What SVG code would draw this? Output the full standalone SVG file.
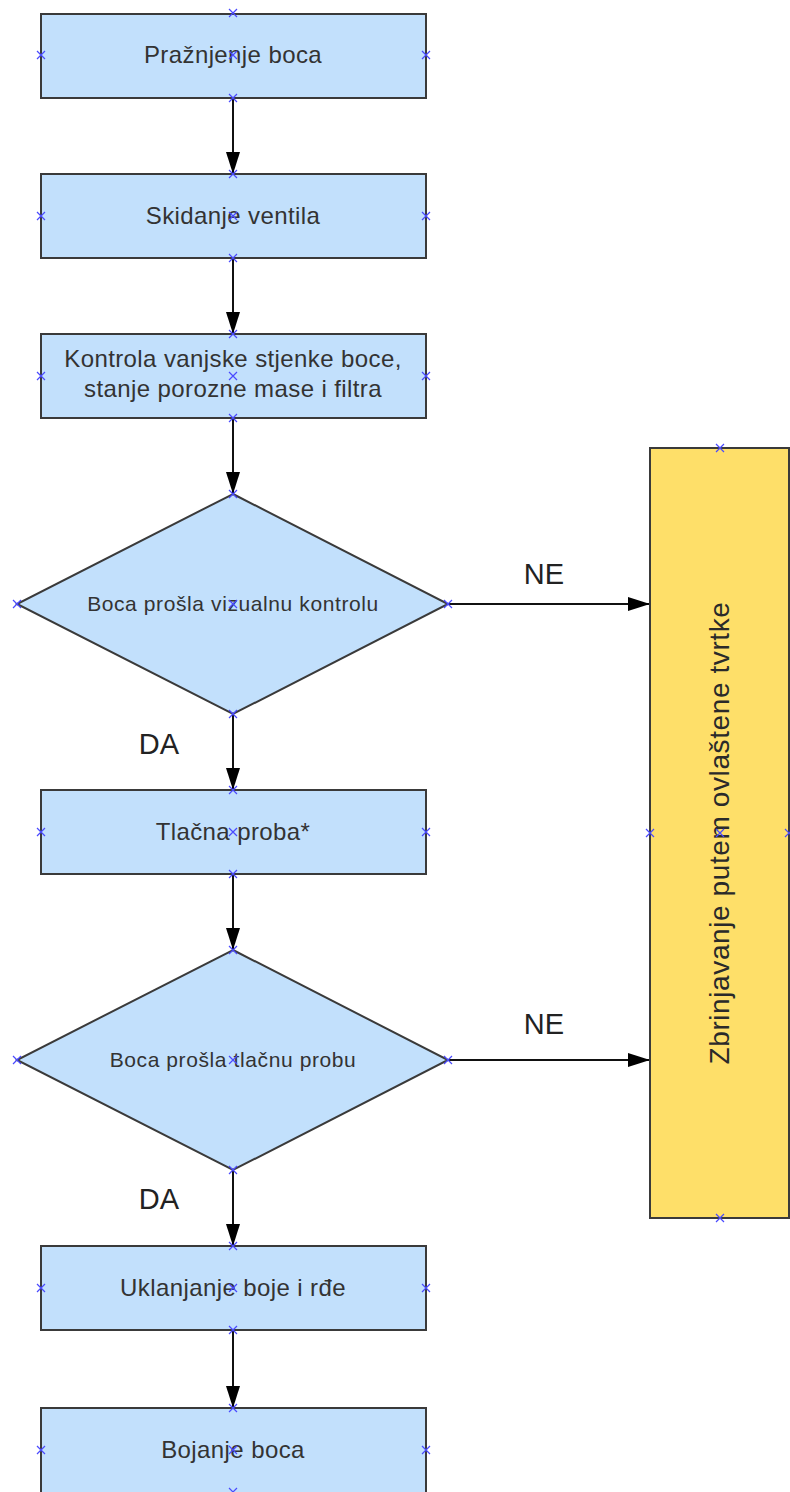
<svg xmlns="http://www.w3.org/2000/svg" width="790" height="1492" viewBox="0 0 790 1492">
<style>
.b{fill:#c2e0fc;stroke:#3a3a3a;stroke-width:2}
.y{fill:#fedf69;stroke:#3a3a3a;stroke-width:2}
.t{font-family:"Liberation Sans",Arial,sans-serif;font-size:24px;letter-spacing:0.4px;fill:#333;text-anchor:middle}
.d{font-family:"Liberation Sans",Arial,sans-serif;font-size:21px;letter-spacing:0.6px;fill:#333;text-anchor:middle}
.l{font-family:"Liberation Sans",Arial,sans-serif;font-size:29px;fill:#222;text-anchor:middle}
.r{font-family:"Liberation Sans",Arial,sans-serif;font-size:28px;letter-spacing:0.6px;fill:#2a2a2a;text-anchor:middle}
.c{stroke:#111;stroke-width:2;fill:none;marker-end:url(#a)}
.x{stroke:#4a4aff;stroke-width:1.2;fill:none}
</style>
<defs>
<marker id="a" markerWidth="22" markerHeight="14" refX="22" refY="7" orient="auto" markerUnits="userSpaceOnUse"><path d="M0,0 L22,7 L0,14 Z" fill="#000"/></marker>
<path id="xm" d="M-4,-4 L4,4 M-4,4 L4,-4"/>
</defs>
<g id="connectors">
<line class="c" x1="233" y1="98" x2="233" y2="174"/>
<line class="c" x1="233" y1="258" x2="233" y2="334"/>
<line class="c" x1="233" y1="418" x2="233" y2="494"/>
<line class="c" x1="233" y1="714" x2="233" y2="790"/>
<line class="c" x1="233" y1="874" x2="233" y2="950"/>
<line class="c" x1="233" y1="1170" x2="233" y2="1246"/>
<line class="c" x1="233" y1="1330" x2="233" y2="1408"/>
<line class="c" x1="448" y1="604" x2="650" y2="604"/>
<line class="c" x1="448" y1="1060" x2="650" y2="1060"/>
<text class="l" x="544" y="584">NE</text>
<text class="l" x="544" y="1034">NE</text>
<text class="l" x="159" y="754">DA</text>
<text class="l" x="159" y="1209">DA</text>
</g>
<g id="n1"><rect class="b" x="41" y="14" width="385" height="84"/><text class="t" x="233" y="63">Pražnjenje boca</text></g>
<g id="n2"><rect class="b" x="41" y="174" width="385" height="84"/><text class="t" x="233" y="224">Skidanje ventila</text></g>
<g id="n3"><rect class="b" x="41" y="334" width="385" height="84"/><text class="t" x="233" y="367">Kontrola vanjske stjenke boce,</text><text class="t" x="233" y="397">stanje porozne mase i filtra</text></g>
<g id="d1"><polygon class="b" points="233,494 448,604 233,714 17,604"/><text class="d" x="233" y="611">Boca prošla vizualnu kontrolu</text></g>
<g id="n4"><rect class="b" x="41" y="790" width="385" height="84"/><text class="t" x="233" y="840">Tlačna proba*</text></g>
<g id="d2"><polygon class="b" points="233,950 448,1060 233,1170 17,1060"/><text class="d" x="233" y="1067">Boca prošla tlačnu probu</text></g>
<g id="n5"><rect class="b" x="41" y="1246" width="385" height="84"/><text class="t" x="233" y="1296">Uklanjanje boje i rđe</text></g>
<g id="n6"><rect class="b" x="41" y="1408" width="385" height="90"/><text class="t" x="233" y="1458">Bojanje boca</text></g>
<g id="n7"><rect class="y" x="650" y="448" width="139" height="770"/><text class="r" transform="translate(729,833) rotate(-90)">Zbrinjavanje putem ovlaštene tvrtke</text></g>
<g id="marks" class="x">
<use href="#xm" x="233" y="13"/><use href="#xm" x="41" y="55"/><use href="#xm" x="426" y="55"/><use href="#xm" x="233" y="55"/><use href="#xm" x="233" y="98"/>
<use href="#xm" x="233" y="174"/><use href="#xm" x="41" y="216"/><use href="#xm" x="426" y="216"/><use href="#xm" x="233" y="216"/><use href="#xm" x="233" y="258"/>
<use href="#xm" x="233" y="334"/><use href="#xm" x="41" y="376"/><use href="#xm" x="426" y="376"/><use href="#xm" x="233" y="376"/><use href="#xm" x="233" y="418"/>
<use href="#xm" x="233" y="494"/><use href="#xm" x="17" y="604"/><use href="#xm" x="448" y="604"/><use href="#xm" x="233" y="604"/><use href="#xm" x="233" y="714"/>
<use href="#xm" x="233" y="790"/><use href="#xm" x="41" y="832"/><use href="#xm" x="426" y="832"/><use href="#xm" x="233" y="832"/><use href="#xm" x="233" y="874"/>
<use href="#xm" x="233" y="950"/><use href="#xm" x="17" y="1060"/><use href="#xm" x="448" y="1060"/><use href="#xm" x="233" y="1060"/><use href="#xm" x="233" y="1170"/>
<use href="#xm" x="233" y="1246"/><use href="#xm" x="41" y="1288"/><use href="#xm" x="426" y="1288"/><use href="#xm" x="233" y="1288"/><use href="#xm" x="233" y="1330"/>
<use href="#xm" x="233" y="1408"/><use href="#xm" x="41" y="1450"/><use href="#xm" x="426" y="1450"/><use href="#xm" x="233" y="1450"/><use href="#xm" x="233" y="1492"/>
<use href="#xm" x="720" y="448"/><use href="#xm" x="650" y="833"/><use href="#xm" x="789" y="833"/><use href="#xm" x="720" y="833"/><use href="#xm" x="720" y="1218"/>
</g>
</svg>
